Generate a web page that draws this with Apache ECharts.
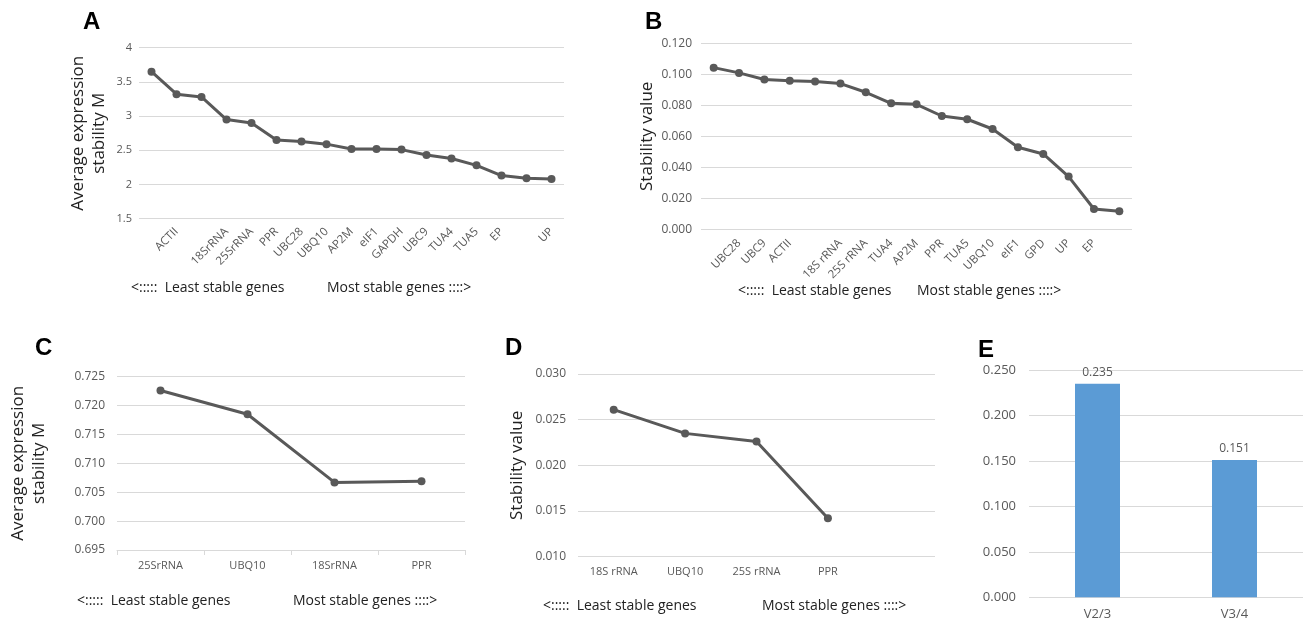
<!DOCTYPE html>
<html>
<head>
<meta charset="utf-8">
<script src="https://cdn.jsdelivr.net/npm/echarts@6/dist/echarts.min.js"></script>
<style>html,body{margin:0;padding:0;background:#fff}#c{width:1306px;height:622px}</style>
</head>
<body>
<div id="c"></div>
<script>
// Panel A (geNorm M values)
var catsA = ['', 'ACTII', '', '18SrRNA', '25SrRNA', 'PPR', 'UBC28', 'UBQ10', 'AP2M', 'eIF1', 'GAPDH', 'UBC9', 'TUA4', 'TUA5', 'EP', '', 'UP'];
var valsA = [3.65, 3.32, 3.28, 2.95, 2.90, 2.65, 2.63, 2.59, 2.52, 2.52, 2.51, 2.43, 2.38, 2.28, 2.13, 2.09, 2.08];
// Panel B (NormFinder stability values)
var catsB = ['', 'UBC28', 'UBC9', 'ACTII', '', '18S rRNA', '25S rRNA', 'TUA4', 'AP2M', 'PPR', 'TUA5', 'UBQ10', 'eIF1', 'GPD', 'UP', 'EP', ''];
var valsB = [0.1043, 0.1009, 0.0966, 0.0959, 0.0953, 0.0940, 0.0884, 0.0813, 0.0806, 0.0731, 0.0710, 0.0647, 0.0529, 0.0486, 0.0340, 0.0131, 0.0116];
// Panel C
var catsC = ['25SrRNA', 'UBQ10', '18SrRNA', 'PPR'];
var valsC = [0.7226, 0.7185, 0.7067, 0.7069];
// Panel D
var catsD = ['18S rRNA', 'UBQ10', '25S rRNA', 'PPR', ''];
var valsD = [0.0261, 0.0235, 0.0226, 0.0142, null];
// Panel E
var catsE = ['V2/3', 'V3/4'];
var valsE = [0.235, 0.151];

var FONT = 'Open Sans';
var TXT = '#595959';
var GRIDC = '#d9d9d9';
var LINEC = '#595959';

function yAx(idx, min, max, interval, dec, margin, name, gap, fs) {
  return {
    type: 'value', gridIndex: idx, min: min, max: max, interval: interval,
    axisLine: {show: false}, axisTick: {show: false},
    splitLine: {lineStyle: {color: GRIDC, width: 1}},
    axisLabel: {color: TXT, fontFamily: FONT, fontSize: fs || 11, margin: margin,
      formatter: function (v) { return dec === null ? String(+v.toFixed(2)) : v.toFixed(dec); }},
    name: name || '', nameLocation: 'middle', nameRotate: 90, nameGap: gap || 30,
    nameTextStyle: {color: '#222', fontFamily: FONT, fontSize: 17, lineHeight: 21}
  };
}
function xAx(idx, cats, rotate, margin, fs, showLine) {
  return {
    type: 'category', gridIndex: idx, data: cats, boundaryGap: true,
    axisLine: {show: !!showLine, lineStyle: {color: GRIDC, width: 1}},
    axisTick: {show: !!showLine, length: 5, lineStyle: {color: GRIDC}},
    axisLabel: {interval: 0, rotate: rotate, color: TXT, fontFamily: FONT, fontSize: fs || 11, margin: margin}
  };
}
function lineS(idx, vals) {
  return {
    type: 'line', xAxisIndex: idx, yAxisIndex: idx, data: vals,
    symbol: 'circle', symbolSize: 8, showSymbol: true,
    lineStyle: {color: LINEC, width: 3}, itemStyle: {color: LINEC},
    animation: false, connectNulls: false
  };
}
function txt(x, y, s, size, bold, color) {
  return {type: 'text', left: x, top: y, silent: true,
    style: {text: s, fontFamily: bold ? 'Liberation Sans' : FONT, fontSize: size,
      fontWeight: bold ? 'bold' : 'normal', fill: color || '#222'}};
}

var chart = echarts.init(document.getElementById('c'), null, {renderer: 'canvas'});
chart.setOption({
  backgroundColor: '#ffffff',
  animation: false,
  grid: [
    {left: 139, top: 47.7, width: 425, height: 171},
    {left: 701, top: 43.3, width: 431, height: 186},
    {left: 117, top: 376.7, width: 348, height: 173.3},
    {left: 578, top: 374, width: 357, height: 182.7},
    {left: 1029, top: 370, width: 274, height: 227.3}
  ],
  xAxis: [
    xAx(0, catsA, 45, 11, 11.5),
    xAx(1, catsB, 45, 12, 11.5),
    xAx(2, catsC, 0, 10, 11, true),
    xAx(3, catsD, 0, 10, 11),
    xAx(4, catsE, 0, 10, 13)
  ],
  yAxis: [
    yAx(0, 1.5, 4, 0.5, null, 7, 'Average expression\nstability M', 29),
    yAx(1, 0, 0.12, 0.02, 3, 9, 'Stability value', 39, 12),
    yAx(2, 0.695, 0.725, 0.005, 3, 12, 'Average expression\nstability M', 67, 12),
    yAx(3, 0.010, 0.030, 0.005, 3, 12, 'Stability value', 50, 12),
    yAx(4, 0, 0.25, 0.05, 3, 13, '', 0, 13)
  ],
  series: [
    lineS(0, valsA),
    lineS(1, valsB),
    lineS(2, valsC),
    lineS(3, valsD),
    {
      type: 'bar', xAxisIndex: 4, yAxisIndex: 4, data: valsE, barWidth: 45,
      itemStyle: {color: '#5b9bd5'}, animation: false,
      label: {show: true, position: 'top', distance: 5, color: TXT, fontFamily: FONT, fontSize: 12,
        formatter: function (p) { return p.value.toFixed(3); }}
    }
  ],
  graphic: [
    txt(83, 10, 'A', 24, true, '#000'),
    txt(645, 10, 'B', 24, true, '#000'),
    txt(35, 336, 'C', 24, true, '#000'),
    txt(505, 336, 'D', 24, true, '#000'),
    txt(978, 338, 'E', 24, true, '#000'),
    txt(131, 281, '<:::::  Least stable genes', 14),
    txt(327, 281, 'Most stable genes ::::>', 14),
    txt(738, 284, '<:::::  Least stable genes', 14),
    txt(917, 284, 'Most stable genes ::::>', 14),
    txt(77, 594, '<:::::  Least stable genes', 14),
    txt(293, 594, 'Most stable genes ::::>', 14),
    txt(543, 599, '<:::::  Least stable genes', 14),
    txt(762, 599, 'Most stable genes ::::>', 14)
  ]
});
</script>
</body>
</html>
